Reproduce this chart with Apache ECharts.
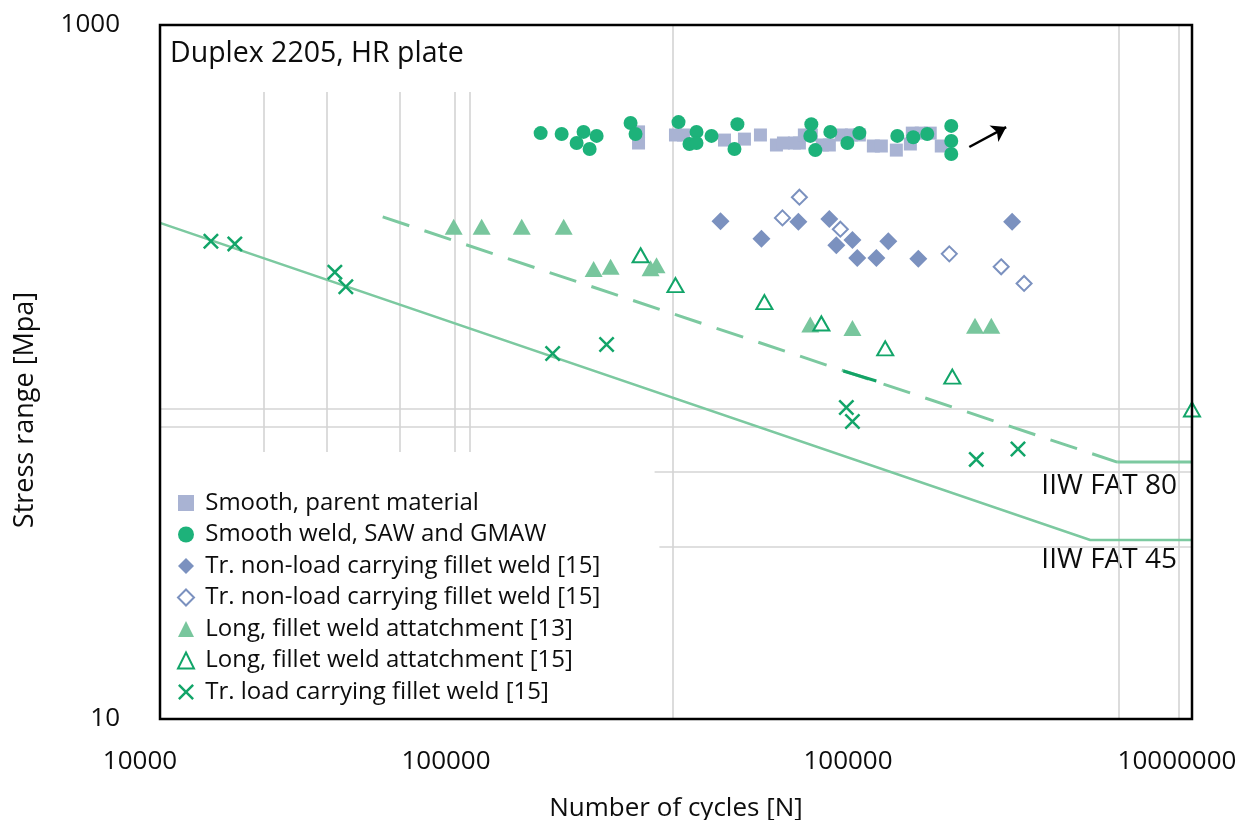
<!DOCTYPE html>
<html>
<head>
<meta charset="utf-8">
<script src="https://cdn.jsdelivr.net/npm/echarts@6/dist/echarts.min.js"></script>
<style>html,body{margin:0;background:#fff}#chart{width:1241px;height:820px}</style>
</head>
<body>
<div id="chart"></div>
<script>
// tick labels (the source figure prints 100000 twice)
var xTickLabels = ['10000', '100000', '100000', '10000000'];
var yTickLabels = {10: '10', 1000: '1000'};

// [cycles, stress range MPa]
var smoothParent = [[246100,492],[246100,457],[315100,482],[332400,482],[437500,466],[500000,469],[556500,482],[619400,451],[649100,457],[698500,457],[722300,457],[746700,482],[782300,482],[842300,451],[882600,451],[956300,482],[1023000,482],[1079000,482],[1185000,448],[1250000,448],[1382000,436],[1518000,454],[1538000,488],[1633000,488],[1734000,488],[1867000,448]];
var smoothWeld = [[127800,488],[147100,485],[170300,492],[162600,457],[185900,479],[177400,439],[233300,522],[241200,485],[321600,525],[362700,492],[346100,454],[362700,457],[401000,479],[477000,518],[467700,439],[782300,518],[777000,479],[803500,436],[888500,492],[995700,457],[1079000,488],[1391000,479],[1548000,475],[1700000,485],[1996000,512],[1996000,463],[1996000,425]];
var nonLoadFilled = [[425900,272],[560200,242],[717500,271],[882600,276],[1030000,240],[924800,232],[1064000,213],[1209000,213],[1310000,238],[1601000,212],[3000000,271]];
var nonLoadOpen = [[722300,319],[644800,278],[950000,258],[1970000,219],[2788000,201],[3250000,180]];
var longFilled = [[71400,262],[86100,262],[112600,262],[149100,262],[182200,198],[204100,201],[266700,199],[277600,203],[777000,137],[1030000,134],[2340000,136],[2610000,136]];
var longOpen = [[249500,217],[315100,178],[571500,159],[836700,138],[1283000,117],[2010000,97],[10000000,78]];
var loadCarrying = [[14060,238],[16500,234],[32230,194],[34690,176],[138500,113],[198700,120],[989000,79],[1030000,72],[2360000,56],[3120000,60]];

// IIW design curves: sloped part and constant part after the knee
var fat80Slope = [[44400,280],[6060000,55]];
var fat80Flat = [[6060000,55],[10000000,55]];
var fat45 = [[10000,269],[5060000,32.8],[10000000,32.8]];
var fat80Piece = [[969000,100.7],[1209000,94.2]];
var runoutArrow = [[2252000,445],[2883000,508]];

// stray reference lines from the source figure
var refLines = [
  [[20000,58.8],[20000,641]], [[30500,58.8],[30500,641]], [[49800,58.8],[49800,641]],
  [[71900,58.8],[71900,641]], [[79500,58.8],[79500,641]],
  [[309000,10],[309000,1000]], [[6140000,10],[6140000,1000]], [[9170000,10],[9170000,1000]],
  [[10000,78.2],[10000000,78.2]], [[10000,69.4],[10000000,69.4]],
  [[274000,51.5],[10000000,51.5]], [[283000,31.3],[10000000,31.3]]
];

var names = {
  a: 'Smooth, parent material',
  b: 'Smooth weld, SAW and GMAW',
  c: 'Tr. non-load carrying fillet weld [15]',
  d: 'Tr. non-load carrying fillet weld [15]',
  e: 'Long, fillet weld attatchment [13]',
  f: 'Long, fillet weld attatchment [15]',
  g: 'Tr. load carrying fillet weld [15]'
};

var crossPath = 'path://M0,1.1L1.1,0L5,3.9L8.9,0L10,1.1L6.1,5L10,8.9L8.9,10L5,6.1L1.1,10L0,8.9L3.9,5Z';
var FONT = 'Open Sans';
var INK = '#0d0d0d';

var myChart = echarts.init(document.getElementById('chart'));
var xPad = [40, 116, 0, 30];
function tickRich(p) {
  return {fontSize: 26, fontFamily: FONT, color: INK, padding: [0, p, 0, 0]};
}

var option = {
  backgroundColor: '#fff',
  animation: false,
  textStyle: {fontFamily: FONT},
  title: {
    text: 'Duplex 2205, HR plate',
    left: 165, top: 34,
    textStyle: {fontFamily: FONT, fontSize: 28.5, fontWeight: 'normal', color: INK}
  },
  grid: {left: 160, right: 49, top: 25, bottom: 101, outerBoundsMode: 'none', containLabel: false,
         show: true, borderColor: '#000', borderWidth: 2.5, z: 10},
  legend: {
    orient: 'vertical', left: 172, top: 486,
    itemWidth: 16, itemHeight: 16, itemGap: 7.5,
    data: ['a','b','c','d','e','f','g'],
    formatter: function (n) { return ' ' + names[n]; },
    textStyle: {fontFamily: FONT, fontSize: 24, color: INK, lineHeight: 24}
  },
  xAxis: {
    type: 'log', logBase: 10, min: 10000, max: 10000000,
    axisLine: {show: false}, axisTick: {show: false}, splitLine: {show: false},
    axisLabel: {
      margin: 30, color: INK, fontSize: 26, fontFamily: FONT,
      formatter: function (v) {
        var i = Math.round(Math.log10(v)) - 4;
        return '{t' + i + '|' + xTickLabels[i] + '}';
      },
      rich: {t0: tickRich(xPad[0]), t1: tickRich(xPad[1]), t2: tickRich(xPad[2]), t3: tickRich(xPad[3])}
    },
    name: 'Number of cycles [N]', nameLocation: 'middle', nameGap: 77,
    nameTextStyle: {fontFamily: FONT, fontSize: 26, color: INK}
  },
  yAxis: {
    type: 'log', logBase: 10, min: 10, max: 1000,
    axisLine: {show: false}, axisTick: {show: false}, splitLine: {show: false},
    axisLabel: {
      margin: 40, color: INK, fontSize: 26, fontFamily: FONT,
      formatter: function (v) { return yTickLabels[Math.round(v)] || ''; }
    }
  },
  graphic: [
    {type: 'text', x: 25, y: 410, rotation: Math.PI / 2,
     style: {text: 'Stress range [Mpa]', font: '27px "Open Sans"', fill: INK, align: 'center', verticalAlign: 'middle'}},
    {type: 'text', x: 1177, y: 486,
     style: {text: 'IIW FAT 80', font: '28px "Open Sans"', fill: INK, align: 'right', verticalAlign: 'middle'}},
    {type: 'text', x: 1177, y: 560,
     style: {text: 'IIW FAT 45', font: '28px "Open Sans"', fill: INK, align: 'right', verticalAlign: 'middle'}}
  ],
  series: [
    {type: 'lines', coordinateSystem: 'cartesian2d', silent: true, z: 1,
     lineStyle: {color: '#d4d4d4', width: 1.6, opacity: 1},
     data: refLines.map(function (c) { return {coords: c}; })},
    {type: 'line', name: 'fat80', data: fat80Slope, symbol: 'none', z: 2, silent: true,
     lineStyle: {color: '#7cc9a0', width: 3, type: [28, 16]}},
    {type: 'line', name: 'fat80flat', data: fat80Flat, symbol: 'none', z: 2, silent: true,
     lineStyle: {color: '#7cc9a0', width: 3}},
    {type: 'line', name: 'fat80piece', data: fat80Piece, symbol: 'none', z: 3, silent: true,
     lineStyle: {color: '#13a366', width: 3}},
    {type: 'line', name: 'fat45', data: fat45, symbol: 'none', z: 2, silent: true,
     lineStyle: {color: '#7cc9a0', width: 2.5}},
    {type: 'lines', coordinateSystem: 'cartesian2d', silent: true, z: 6,
     symbol: ['none', 'arrow'], symbolSize: 14,
     lineStyle: {color: '#000', width: 2.5, opacity: 1},
     data: [{coords: runoutArrow}]},
    {type: 'scatter', name: 'a', data: smoothParent, symbol: 'rect', symbolSize: 13, z: 3,
     itemStyle: {color: '#a9b3d3', opacity: 1}},
    {type: 'scatter', name: 'b', data: smoothWeld, symbol: 'circle', symbolSize: 14, z: 4,
     itemStyle: {color: '#1db27a', opacity: 1}},
    {type: 'scatter', name: 'c', data: nonLoadFilled, symbol: 'diamond', symbolSize: [18, 18], z: 4,
     itemStyle: {color: '#7b91bf', opacity: 1}},
    {type: 'scatter', name: 'd', data: nonLoadOpen, symbol: 'diamond', symbolSize: [15, 15], z: 4,
     itemStyle: {color: '#fff', borderColor: '#7b91bf', borderWidth: 2, opacity: 1}},
    {type: 'scatter', name: 'e', data: longFilled, symbol: 'triangle', symbolSize: [18, 16], z: 4,
     itemStyle: {color: '#78c69d', opacity: 1}},
    {type: 'scatter', name: 'f', data: longOpen, symbol: 'triangle', symbolSize: [16, 14], z: 5, clip: false,
     itemStyle: {color: '#fff', borderColor: '#12a569', borderWidth: 2, opacity: 1}},
    {type: 'scatter', name: 'g', data: loadCarrying, symbol: crossPath, symbolSize: 16, z: 5,
     itemStyle: {color: '#12a569', opacity: 1}}
  ]
};

myChart.setOption(option);
</script>
</body>
</html>
